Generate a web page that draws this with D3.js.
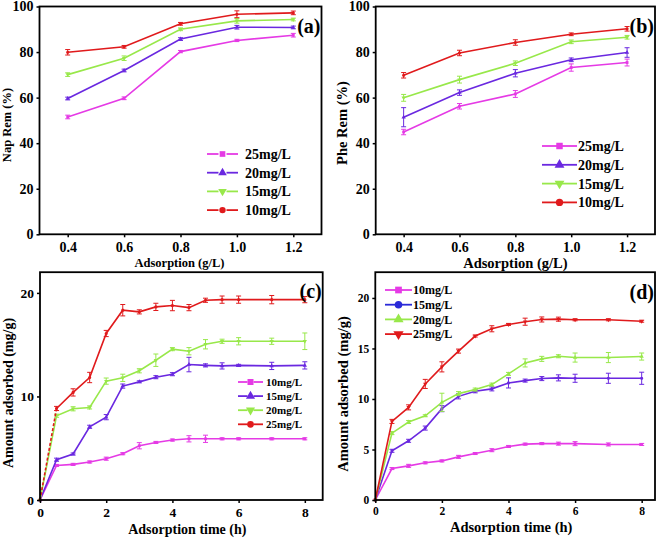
<!DOCTYPE html>
<html><head><meta charset="utf-8">
<script src="https://cdn.jsdelivr.net/npm/d3@7"></script>
<style>body{margin:0;background:#fff}svg{display:block}text{font-family:"Liberation Serif","Times New Roman",serif;font-weight:bold}</style>
</head><body>
<svg id="c" width="661" height="539"></svg>
<script>
// ---------- data ----------
const dose = [0.4, 0.6, 0.8, 1.0, 1.2];
const nap25 = [51.5, 59.7, 80.2, 85.1, 87.4];
const nap20 = [59.6, 71.9, 85.7, 90.9, 90.8];
const nap15 = [70.1, 77.3, 90.0, 93.7, 94.3];
const nap10 = [79.9, 82.3, 92.4, 96.6, 97.2];
const nap25e = [0.8, 0.6, 0.5, 0.5, 0.8];
const nap20e = [0.6, 0.6, 0.6, 0.8, 0.6];
const nap15e = [0.8, 1.0, 0.6, 1.0, 0.6];
const nap10e = [1.2, 0.6, 0.6, 1.5, 0.8];

const phe25 = [44.9, 56.2, 61.6, 73.2, 75.4];
const phe20 = [51.4, 62.2, 70.7, 76.6, 79.8];
const phe15 = [59.9, 67.9, 75.1, 84.5, 86.5];
const phe10 = [69.8, 79.6, 84.2, 87.8, 90.2];
const phe25e = [1.2, 1.2, 1.5, 1.6, 1.5];
const phe20e = [4.2, 1.2, 1.6, 0.8, 2.1];
const phe15e = [1.5, 1.5, 1.0, 0.8, 0.8];
const phe10e = [1.2, 1.2, 1.2, 0.6, 1.0];

const time = [0, 0.5, 1, 1.5, 2, 2.5, 3, 3.5, 4, 4.5, 5, 5.5, 6, 7, 8];
const c10 = [0, 3.34, 3.44, 3.67, 3.99, 4.47, 5.24, 5.56, 5.79, 5.91, 5.91, 5.91, 5.91, 5.91, 5.91];
const c15 = [0, 3.89, 4.44, 7.07, 8.0, 11.0, 11.41, 11.86, 12.15, 13.08, 13.0, 12.95, 13.0, 12.95, 13.0];
const c20 = [0, 8.14, 8.81, 8.94, 11.48, 11.8, 12.48, 13.5, 14.57, 14.37, 15.04, 15.33, 15.33, 15.33, 15.33];
const c25 = [0, 8.84, 10.39, 11.83, 16.08, 18.33, 18.17, 18.65, 18.78, 18.58, 19.29, 19.35, 19.35, 19.35, 19.35];
const c10e = [0, 0.1, 0.1, 0.1, 0.15, 0.1, 0.3, 0.1, 0.1, 0.3, 0.35, 0.1, 0.1, 0.1, 0.1];
const c15e = [0, 0.15, 0.1, 0.15, 0.25, 0.2, 0.1, 0.15, 0.15, 0.7, 0.15, 0.3, 0.1, 0.35, 0.35];
const c20e = [0, 0.15, 0.2, 0.15, 0.3, 0.35, 0.2, 0.6, 0.15, 0.35, 0.45, 0.2, 0.35, 0.3, 0.8];
const c25e = [0, 0.2, 0.35, 0.5, 0.3, 0.55, 0.2, 0.35, 0.5, 0.3, 0.2, 0.35, 0.35, 0.4, 0.3];

const d10 = [0, 3.11, 3.38, 3.68, 3.87, 4.27, 4.6, 4.93, 5.3, 5.53, 5.58, 5.58, 5.58, 5.5, 5.5];
const d15 = [0, 4.87, 5.86, 7.12, 9.04, 10.26, 10.76, 11.0, 11.59, 11.82, 12.02, 12.09, 12.05, 12.05, 12.05];
const d20 = [0, 6.62, 7.72, 8.34, 9.67, 10.53, 10.93, 11.42, 12.48, 13.57, 13.97, 14.23, 14.1, 14.1, 14.2];
const d25 = [0, 7.78, 9.17, 11.49, 13.18, 14.74, 16.23, 16.95, 17.38, 17.65, 17.87, 17.9, 17.84, 17.84, 17.7];
const d10e = [0, 0.1, 0.15, 0.1, 0.1, 0.15, 0.1, 0.15, 0.1, 0.1, 0.1, 0.15, 0.2, 0.15, 0.1];
const d15e = [0, 0.15, 0.15, 0.2, 0.3, 0.25, 0.15, 0.2, 0.5, 0.15, 0.2, 0.3, 0.4, 0.5, 0.6];
const d20e = [0, 0.15, 0.15, 0.1, 0.9, 0.2, 0.15, 0.15, 0.15, 0.4, 0.25, 0.15, 0.45, 0.5, 0.35];
const d25e = [0, 0.2, 0.25, 0.45, 0.5, 0.2, 0.1, 0.3, 0.1, 0.35, 0.25, 0.2, 0.1, 0.1, 0.1];

const doseTicks = [0.4, 0.6, 0.8, 1.0, 1.2];
const remTicks = [0, 20, 40, 60, 80, 100];
const timeTicks = [0, 2, 4, 6, 8];
const cTicks = [0, 10, 20];
const dTicks = [0, 5, 10, 15, 20];

const MAG = "#e53ae5", BLU = "#6a28e0", GRN = "#98e84a", RED = "#e01a1c", BLU2 = "#2a2ad8";

// ---------- drawing ----------
const svg = d3.select("#c");
const sym = {sq: d3.symbolSquare, up: d3.symbolTriangle, circ: d3.symbolCircle, down: d3.symbolTriangle};

function marker(g, type, x, y, size, color) {
  g.append("path").attr("d", d3.symbol().type(sym[type]).size(size)())
    .attr("transform", `translate(${x},${y})` + (type === "down" ? " rotate(180)" : ""))
    .attr("fill", color);
}

function panel(o) {
  const x = d3.scaleLinear().domain(o.xd).range([o.L, o.R]);
  const y = d3.scaleLinear().domain(o.yd).range([o.B, o.T]);
  const g = svg.append("g");
  const line = d3.line().x(d => x(d[0])).y(d => y(d[1]));
  o.series.forEach(s => {
    const pts = o.xs.map((v, i) => [v, s.v[i], s.e[i]]);
    if (s.dashFirst) {
      g.append("path").datum(pts.slice(0, 2)).attr("d", line).attr("fill", "none")
        .attr("stroke", s.c).attr("stroke-width", 1.6).attr("stroke-dasharray", "3,2");
      g.append("path").datum(pts.slice(1)).attr("d", line).attr("fill", "none")
        .attr("stroke", s.c).attr("stroke-width", 1.6);
    } else {
      g.append("path").datum(pts).attr("d", line).attr("fill", "none")
        .attr("stroke", s.c).attr("stroke-width", 1.6);
    }
    pts.forEach(p => {
      if (p[2] > 0) {
        const x0 = x(p[0]), y1 = y(p[1] - p[2]), y2 = y(p[1] + p[2]);
        g.append("line").attr("x1", x0).attr("x2", x0).attr("y1", y1).attr("y2", y2).attr("stroke", s.c).attr("stroke-width", 1);
        [y1, y2].forEach(yy => g.append("line").attr("x1", x0 - 2.5).attr("x2", x0 + 2.5).attr("y1", yy).attr("y2", yy).attr("stroke", s.c).attr("stroke-width", 1));
      }
      marker(g, s.m, x(p[0]), y(p[1]), 8, s.c);
    });
  });
  // axes
  const ax = g.append("g").attr("transform", `translate(0,${o.B})`)
    .call(d3.axisBottom(x).tickValues(o.xt).tickSize(3).tickSizeOuter(0).tickPadding(o.xpad).tickFormat(o.xf));
  const ay = g.append("g").attr("transform", `translate(${o.L},0)`)
    .call(d3.axisLeft(y).tickValues(o.yt).tickSize(3).tickSizeOuter(0).tickPadding(3));
  [ax, ay].forEach(a => {
    a.select(".domain").remove();
    a.selectAll("line").attr("stroke", "#000").attr("stroke-width", 1.5);
    a.selectAll("text").attr("font-size", o.tf).attr("fill", "#000")
      .attr("font-family", "Liberation Serif").attr("font-weight", "bold");
  });
  g.append("rect").attr("x", o.L).attr("y", o.T).attr("width", o.R - o.L).attr("height", o.B - o.T)
    .attr("fill", "none").attr("stroke", "#000").attr("stroke-width", 1.8);
  // titles
  g.append("text").attr("x", (o.L + o.R) / 2 + o.xtdx).attr("y", o.xty).attr("text-anchor", "middle")
    .attr("font-size", o.af).text(o.xtitle);
  g.append("text").attr("transform", `translate(${o.ytx},${o.yty}) rotate(-90)`).attr("text-anchor", "middle")
    .attr("font-size", o.af).text(o.ytitle);
  g.append("text").attr("x", o.R - 1).attr("y", o.lab[1]).attr("text-anchor", "end")
    .attr("font-size", 20).text(o.lab[0]);
  // legend
  o.legend.forEach((s, i) => {
    const ly = o.lg.y + i * o.lg.dy;
    const mx = (o.lg.x1 + o.lg.x2) / 2, gap = o.lg.gap || 0;
    g.append("line").attr("x1", o.lg.x1).attr("x2", mx - gap).attr("y1", ly).attr("y2", ly)
      .attr("stroke", s.c).attr("stroke-width", 1.8);
    g.append("line").attr("x1", mx + gap).attr("x2", o.lg.x2).attr("y1", ly).attr("y2", ly)
      .attr("stroke", s.c).attr("stroke-width", 1.8);
    marker(g, s.m, mx, ly, o.lg.ms, s.c);
    g.append("text").attr("x", o.lg.tx).attr("y", ly).attr("dy", "0.35em")
      .attr("font-size", o.lg.f).text(s.n);
  });
}

const f1 = d3.format(".1f");
panel({
  L: 39.5, R: 321.5, T: 6.5, B: 234.3, xd: [0.3, 1.3], yd: [0, 100], xs: dose,
  xt: doseTicks, yt: remTicks, xf: f1, xpad: 5, tf: 14, af: 12.5,
  xtitle: "Adsorption (g/L)", xty: 267, xtdx: -1, ytitle: "Nap Rem (%)", ytx: 11, yty: 125,
  lab: ["(a)", 33],
  series: [
    {v: nap25, e: nap25e, c: MAG, m: "sq"}, {v: nap20, e: nap20e, c: BLU, m: "up"},
    {v: nap15, e: nap15e, c: GRN, m: "down"}, {v: nap10, e: nap10e, c: RED, m: "circ"}],
  legend: [{n: "25mg/L", c: MAG, m: "sq"}, {n: "20mg/L", c: BLU, m: "up"}, {n: "15mg/L", c: GRN, m: "down"}, {n: "10mg/L", c: RED, m: "circ"}],
  lg: {x1: 207, x2: 238, tx: 245, y: 154, dy: 18.7, f: 14, ms: 32, gap: 4}
});
panel({
  L: 375.7, R: 655, T: 6.5, B: 234.3, xd: [0.3, 1.3], yd: [0, 100], xs: dose,
  xt: doseTicks, yt: remTicks, xf: f1, xpad: 5, tf: 14, af: 14.5,
  xtitle: "Adsorption (g/L)", xty: 268, xtdx: 0, ytitle: "Phe Rem (%)", ytx: 347, yty: 123,
  lab: ["(b)", 33],
  series: [
    {v: phe25, e: phe25e, c: MAG, m: "sq"}, {v: phe20, e: phe20e, c: BLU, m: "up"},
    {v: phe15, e: phe15e, c: GRN, m: "down"}, {v: phe10, e: phe10e, c: RED, m: "circ"}],
  legend: [{n: "25mg/L", c: MAG, m: "sq"}, {n: "20mg/L", c: BLU, m: "up"}, {n: "15mg/L", c: GRN, m: "down"}, {n: "10mg/L", c: RED, m: "circ"}],
  lg: {x1: 542, x2: 577, tx: 578, y: 146, dy: 18.8, f: 14, ms: 42}
});
panel({
  L: 40, R: 322.7, T: 272.2, B: 500, xd: [0, 8.54], yd: [0, 22], xs: time,
  xt: timeTicks, yt: cTicks, xf: d3.format("d"), xpad: 4, tf: 13.5, af: 14,
  xtitle: "Adsorption time (h)", xty: 534, xtdx: 6, ytitle: "Amount adsorbed (mg/g)", ytx: 13, yty: 393,
  lab: ["(c)", 298],
  series: [
    {v: c10, e: c10e, c: MAG, m: "sq"}, {v: c15, e: c15e, c: BLU, m: "up"},
    {v: c20, e: c20e, c: GRN, m: "down"}, {v: c25, e: c25e, c: RED, m: "circ", dashFirst: true}],
  legend: [{n: "10mg/L", c: MAG, m: "sq"}, {n: "15mg/L", c: BLU, m: "up"}, {n: "20mg/L", c: GRN, m: "down"}, {n: "25mg/L", c: RED, m: "circ"}],
  lg: {x1: 238, x2: 263, tx: 266, y: 382, dy: 14.1, f: 11, ms: 36, gap: 3}
});
panel({
  L: 375.3, R: 655, T: 272.2, B: 500, xd: [0, 8.4], yd: [0, 22.55], xs: time,
  xt: timeTicks, yt: dTicks, xf: d3.format("d"), xpad: 4, tf: 11.5, af: 14.5,
  xtitle: "Adsorption time (h)", xty: 532, xtdx: -4, ytitle: "Amount adsorbed (mg/g)", ytx: 348, yty: 394,
  lab: ["(d)", 299],
  series: [
    {v: d10, e: d10e, c: MAG, m: "sq"}, {v: d15, e: d15e, c: BLU, m: "circ"},
    {v: d20, e: d20e, c: GRN, m: "up"}, {v: d25, e: d25e, c: RED, m: "down"}],
  legend: [{n: "10mg/L", c: MAG, m: "sq"}, {n: "15mg/L", c: BLU2, m: "circ"}, {n: "20mg/L", c: GRN, m: "up"}, {n: "25mg/L", c: RED, m: "down"}],
  lg: {x1: 385, x2: 412, tx: 413, y: 290, dy: 14.7, f: 12, ms: 45}
});
</script>
</body></html>
